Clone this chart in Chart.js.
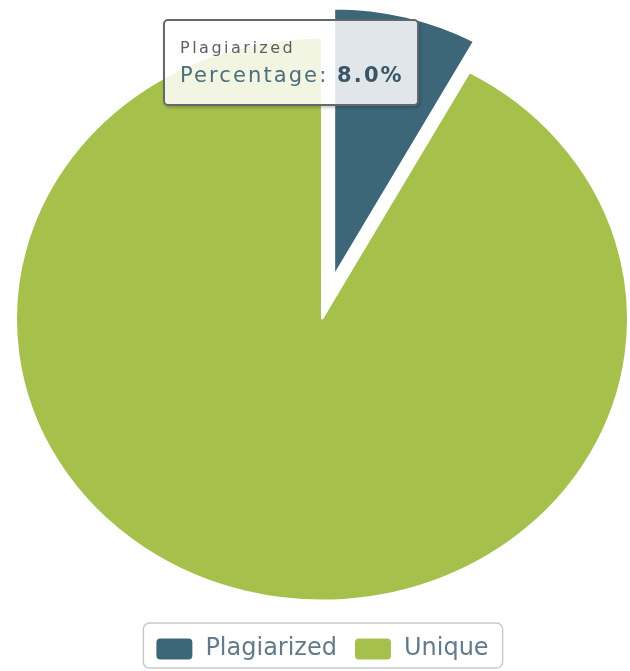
<!DOCTYPE html>
<html>
<head>
<meta charset="utf-8">
<script src="https://cdn.jsdelivr.net/npm/chart.js@4"></script>
<style>
    html, body { margin: 0; padding: 0; background: #fff; }
    #wrap { position: relative; width: 630px; height: 671px; }
    #tip {
        position: absolute;
        left: 163px;
        top: 19px;
        width: 256px;
        height: 87px;
        box-sizing: border-box;
        border: 2px solid #62686c;
        border-radius: 5px;
        background: rgba(255, 255, 255, 0.84);
        box-shadow: 1px 2px 3px rgba(0, 0, 0, 0.2);
        font-family: "DejaVu Sans", Verdana, sans-serif;
        padding: 18px 0 0 15px;
        display: none;
        white-space: nowrap;
    }
    #tip .t { font-size: 16px; line-height: 18px; color: #5a5f63; letter-spacing: 2.5px; }
    #tip .b { font-size: 21px; line-height: 24px; color: #4d6e7d; margin-top: 6px; letter-spacing: 2.1px; }
    #tip .b b { color: #3a5666; }
</style>
</head>
<body>
<div id="wrap">
    <canvas id="pieChart" width="630" height="671"></canvas>
    <div id="tip"></div>
</div>
<script>
// данные
const labels = ["Plagiarized", "Unique"];
const values = [8, 92];
const valueLabel = "Percentage";

// сжатие круга по вертикали (в оригинале эллипс)
const squeeze = {
    id: "squeeze",
    beforeDatasetsDraw(chart) {
        const a = chart.chartArea;
        const cx = (a.left + a.right) / 2;
        const cy = (a.top + a.bottom) / 2;
        const c = chart.ctx;
        c.save();
        c.translate(cx, cy);
        c.scale(1, 0.92);
        c.translate(-cx, -cy);
    },
    afterDatasetsDraw(chart) {
        chart.ctx.restore();
    },
};

// выдвинутый сектор
const explode = {
    id: "explode",
    afterDatasetUpdate(chart, args) {
        const arc = args.meta.data[0];
        if (!arc) return;
        const mid = (arc.startAngle + arc.endAngle) / 2;
        arc.x += Math.cos(mid) * 49;
        arc.y += Math.sin(mid) * 49;
        arc.outerRadius -= 16;
    },
};

// рамка вокруг легенды
const legendBorder = {
    id: "legendBorder",
    afterDraw(chart) {
        const boxes = chart.legend.legendHitBoxes;
        if (!boxes || !boxes.length) return;
        let l = Infinity, r = -Infinity, t = Infinity, b = -Infinity;
        boxes.forEach((h) => {
            l = Math.min(l, h.left);
            r = Math.max(r, h.left + h.width);
            t = Math.min(t, h.top);
            b = Math.max(b, h.top + h.height);
        });
        const c = chart.ctx;
        c.save();
        c.strokeStyle = "#c6cacd";
        c.lineWidth = 1.5;
        c.beginPath();
        c.roundRect(l - 12, t - 14, r - l + 26, b - t + 21, 6);
        c.stroke();
        c.restore();
    },
};

function externalTip(context) {
    const tt = context.tooltip;
    const el = document.getElementById("tip");
    if (tt.opacity === 0 || !tt.dataPoints || !tt.dataPoints.length) {
        el.style.display = "none";
        return;
    }
    const dp = tt.dataPoints[0];
    const total = values.reduce((a, v) => a + v, 0);
    const pct = (values[dp.dataIndex] / total * 100).toFixed(1) + "%";
    el.innerHTML = '<div class="t">' + labels[dp.dataIndex] + '</div>' +
        '<div class="b">' + valueLabel + ': <b>' + pct + '</b></div>';
    el.style.display = "block";
}

const ctx = document.getElementById("pieChart").getContext("2d");
const chart = new Chart(ctx, {
    type: "pie",
    data: {
        labels: labels,
        datasets: [
            {
                data: values,
                backgroundColor: ["#3d6679", "#a6c04c"],
                borderColor: "#ffffff",
                borderWidth: 2,
            },
        ],
    },
    options: {
        responsive: false,
        animation: false,
        events: [],
        radius: 306,
        layout: {
            padding: { top: 18, left: 14, right: 0, bottom: 0 },
        },
        plugins: {
            legend: {
                position: "bottom",
                labels: {
                    color: "#627a8a",
                    font: { family: "'DejaVu Sans', Verdana, sans-serif", size: 24 },
                    boxWidth: 38,
                    boxHeight: 23,
                    useBorderRadius: true,
                    borderRadius: 5,
                    padding: 17,
                },
            },
            tooltip: {
                enabled: false,
                external: externalTip,
            },
        },
    },
    plugins: [squeeze, explode, legendBorder],
});

chart.tooltip.setActiveElements([{ datasetIndex: 0, index: 0 }], { x: 0, y: 0 });
chart.update();
</script>
</body>
</html>
